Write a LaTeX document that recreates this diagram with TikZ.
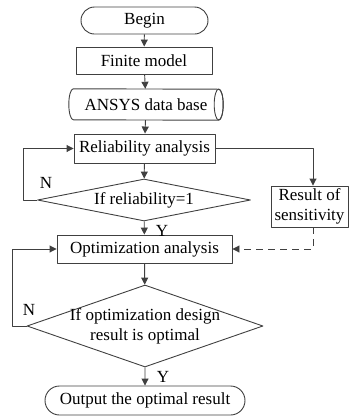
\documentclass[tikz,border=0pt]{standalone}
\usepackage{fontspec}
\setmainfont{Liberation Serif}
\usetikzlibrary{shapes.geometric,shapes.misc,arrows.meta}
\definecolor{lineg}{HTML}{404040}
\tikzset{
  flow/.style={draw=lineg, line width=0.9pt},
  term/.style={rounded rectangle, flow, inner sep=2pt},
  proc/.style={rectangle, flow, inner sep=2pt},
  dec/.style={diamond, flow, inner sep=0pt},
  conn/.style={flow, ->},
  tag/.style={inner sep=0pt}
}
\begin{document}
\begin{tikzpicture}[x=1pt, y=1pt, font=\fontsize{17}{20}\selectfont, line join=round, >={Triangle[length=7pt,width=7pt]}]
\useasboundingbox (0,0) rectangle (349,-416);
% cylinder ends
\def\erx{4.5}
\def\ery{15.5}
% main column
\node[term, minimum width=131, minimum height=27] (begin) at (144.5,-20.5) {Begin};
\node[proc, minimum width=136, minimum height=27] (fem) at (144,-60.5) {Finite model};
\node[inner sep=2pt, minimum width=145, minimum height=31] (ansys) at (146,-104.5) {ANSYS data base};
\node[proc, minimum width=141, minimum height=29] (rel) at (144.5,-148.5) {Reliability analysis};
\node[dec, shape aspect=5, minimum width=213, minimum height=42] (ifrel) at (144,-200) {If reliability=1};
\node[proc, minimum width=77, minimum height=41, align=center] (sens) at (309.5,-206.5) {Result of\\sensitivity};
\node[proc, minimum width=175, minimum height=28] (opt) at (144.5,-249) {Optimization analysis};
\node[dec, minimum width=236, minimum height=82] (ifopt) at (145,-326) {};
\node[align=center] (ifoptt) at (ifopt) {If optimization design\\result is optimal};
\node[term, minimum width=204, minimum height=29] (out) at (145,-400.5) {Output the optimal result};
% data base drum
\draw[flow] (ansys.north west) arc[start angle=90, end angle=270, x radius=\erx, y radius=\ery]
  -- (ansys.south east) arc[start angle=-90, end angle=90, x radius=\erx, y radius=\ery] -- cycle;
\draw[flow] (ansys.east) ellipse[x radius=\erx, y radius=\ery];
% loop corners
\coordinate (lp1) at (23,-200);
\coordinate (lp2) at (12,-326);
% connectors
\foreach \a/\b in {begin/fem, fem/ansys, ansys/rel, rel/ifrel, ifrel/opt, opt/ifopt, ifopt/out}
  \draw[conn] (\a) -- (\b);
\draw[conn] (ifrel.west) -- (lp1) |- (rel.west);
\draw[conn] (ifopt.west) -- (lp2) |- (opt.west);
\draw[conn] (rel.east) -| ([xshift=3.5]sens.north);
\draw[conn, dash pattern=on 7pt off 5pt] ([xshift=3.5]sens.south) |- (opt.east);
% Y/N
\foreach \n/\t/\p in {n1/N/{(46,-183)}, n2/N/{(29,-310)}, y1/Y/{(162,-231)}, y2/Y/{(163,-377)}}
  \node[tag] (\n) at \p {\t};
\end{tikzpicture}
\end{document}
